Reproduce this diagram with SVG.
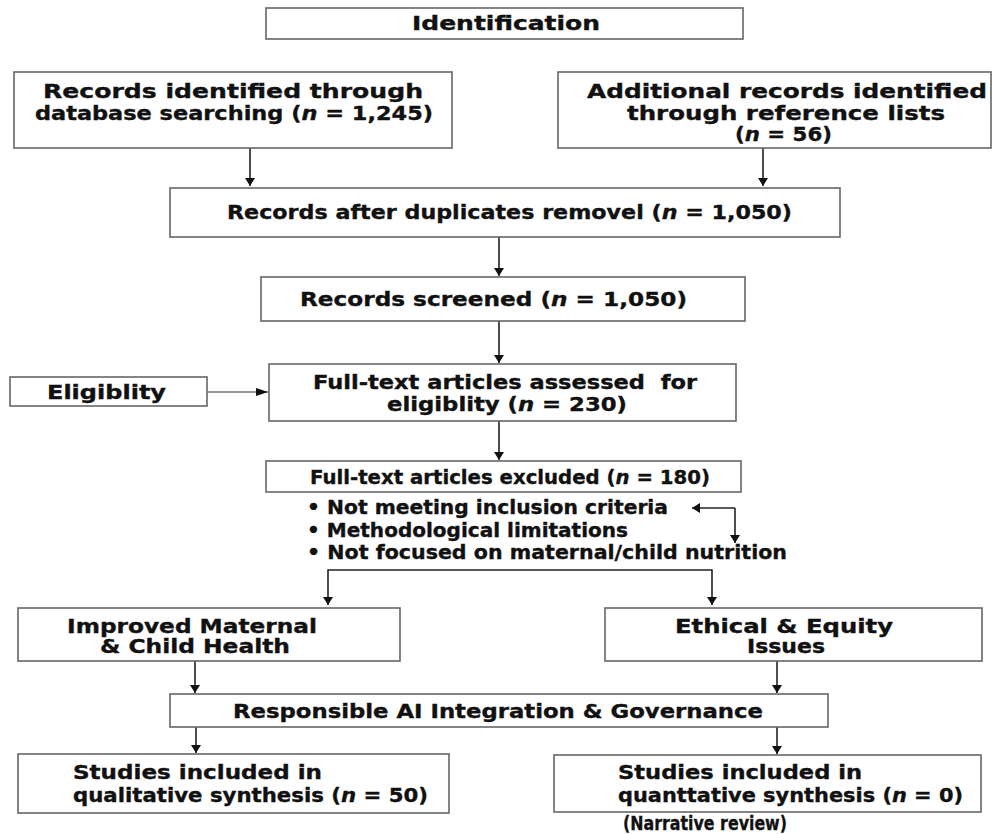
<svg xmlns="http://www.w3.org/2000/svg" width="992" height="834" viewBox="0 0 992 834">
<style>
.box{fill:#fff;stroke:#666;stroke-width:1.6}
.t{font-family:"DejaVu Sans","Liberation Sans",sans-serif;font-weight:bold;font-size:19px;fill:#111;stroke:#111;stroke-width:0.35;white-space:pre}
.c{fill:none;stroke:#222;stroke-width:1.6}
.thin{fill:none;stroke:#333;stroke-width:1}
</style>
<defs>
<marker id="ah" viewBox="0 0 8 10" markerWidth="8" markerHeight="10" refX="8" refY="5" orient="auto-start-reverse" markerUnits="userSpaceOnUse">
<path d="M0,0 L8,5 L0,10 z" fill="#111"/>
</marker>
<marker id="ahs" viewBox="0 0 12 8" markerWidth="12" markerHeight="8" refX="12" refY="4" orient="auto" markerUnits="userSpaceOnUse">
<path d="M0,0 L12,4 L0,8 z" fill="#111"/>
</marker>
</defs>
<rect width="992" height="834" fill="#fff"/>
<g id="connectors">
<path class="c" d="M250,148 V186" marker-end="url(#ah)"/>
<path class="c" d="M763,148 V186" marker-end="url(#ah)"/>
<path class="c" d="M499,237 V276" marker-end="url(#ah)"/>
<path class="c" d="M499,321 V363" marker-end="url(#ah)"/>
<path class="thin" d="M207,392 H268" marker-end="url(#ahs)"/>
<path class="c" d="M499,421 V460" marker-end="url(#ah)"/>
<path class="c" d="M735,508 H692" marker-end="url(#ah)"/>
<path class="c" d="M735,508 V543" marker-end="url(#ah)"/>
<path class="c" d="M328,605 V570 H712 V605" marker-start="url(#ah)" marker-end="url(#ah)"/>
<path class="c" d="M195,661 V693" marker-end="url(#ah)"/>
<path class="c" d="M777,661 V693" marker-end="url(#ah)"/>
<path class="c" d="M196,727 V753" marker-end="url(#ah)"/>
<path class="c" d="M777,727 V754" marker-end="url(#ah)"/>
</g>
<g id="identification">
<rect class="box" x="266" y="8" width="477" height="31"/>
<text class="t" x="412" y="30" textLength="188" lengthAdjust="spacingAndGlyphs">Identification</text>
</g>
<g id="database">
<rect class="box" x="14" y="72" width="438" height="76"/>
<text class="t" x="43" y="98" textLength="380" lengthAdjust="spacingAndGlyphs">Records identified through</text>
<text class="t" x="35" y="120" textLength="398" lengthAdjust="spacingAndGlyphs">database searching (<tspan font-style="italic">n</tspan> = 1,245)</text>
</g>
<g id="additional">
<rect class="box" x="558" y="72" width="433" height="76"/>
<text class="t" x="587" y="98" textLength="400" lengthAdjust="spacingAndGlyphs">Additional records identified</text>
<text class="t" x="627" y="120" textLength="318" lengthAdjust="spacingAndGlyphs">through reference lists</text>
<text class="t" x="735" y="141" textLength="97" lengthAdjust="spacingAndGlyphs">(<tspan font-style="italic">n</tspan> = 56)</text>
</g>
<g id="duplicates">
<rect class="box" x="170" y="188" width="670" height="49"/>
<text class="t" x="227" y="219" textLength="565" lengthAdjust="spacingAndGlyphs">Records after duplicates removel (<tspan font-style="italic">n</tspan> = 1,050)</text>
</g>
<g id="screened">
<rect class="box" x="261" y="277" width="484" height="44"/>
<text class="t" x="300" y="306" textLength="387" lengthAdjust="spacingAndGlyphs">Records screened (<tspan font-style="italic">n</tspan> = 1,050)</text>
</g>
<g id="assessed">
<rect class="box" x="269" y="364" width="467" height="57"/>
<text class="t" x="313" y="389" textLength="384" lengthAdjust="spacingAndGlyphs">Full-text articles assessed  for</text>
<text class="t" x="387" y="411" textLength="240" lengthAdjust="spacingAndGlyphs">eligiblity (<tspan font-style="italic">n</tspan> = 230)</text>
</g>
<g id="eligibility">
<rect class="box" x="10" y="377" width="197" height="29"/>
<text class="t" x="47" y="399" textLength="119" lengthAdjust="spacingAndGlyphs">Eligiblity</text>
</g>
<g id="excluded">
<rect class="box" x="266" y="461" width="475" height="31"/>
<text class="t" x="310" y="484" textLength="400" lengthAdjust="spacingAndGlyphs">Full-text articles excluded (<tspan font-style="italic">n</tspan> = 180)</text>
<text class="t" x="307" y="514" textLength="361" lengthAdjust="spacingAndGlyphs">• Not meeting inclusion criteria</text>
<text class="t" x="307" y="537" textLength="321" lengthAdjust="spacingAndGlyphs">• Methodological limitations</text>
<text class="t" x="307" y="559" textLength="480" lengthAdjust="spacingAndGlyphs">• Not focused on maternal/child nutrition</text>
</g>
<g id="improved">
<rect class="box" x="18" y="608" width="382" height="53"/>
<text class="t" x="67" y="633" textLength="250" lengthAdjust="spacingAndGlyphs">Improved Maternal</text>
<text class="t" x="100" y="653" textLength="190" lengthAdjust="spacingAndGlyphs">&amp; Child Health</text>
</g>
<g id="ethical">
<rect class="box" x="605" y="608" width="377" height="53"/>
<text class="t" x="675" y="633" textLength="218" lengthAdjust="spacingAndGlyphs">Ethical &amp; Equity</text>
<text class="t" x="747" y="653" textLength="78" lengthAdjust="spacingAndGlyphs">Issues</text>
</g>
<g id="responsible">
<rect class="box" x="170" y="694" width="658" height="33"/>
<text class="t" x="233" y="718" textLength="530" lengthAdjust="spacingAndGlyphs">Responsible AI Integration &amp; Governance</text>
</g>
<g id="qualitative">
<rect class="box" x="18" y="754" width="431" height="59"/>
<text class="t" x="73" y="779" textLength="249" lengthAdjust="spacingAndGlyphs">Studies included in</text>
<text class="t" x="73" y="802" textLength="355" lengthAdjust="spacingAndGlyphs">qualitative synthesis (<tspan font-style="italic">n</tspan> = 50)</text>
</g>
<g id="quantitative">
<rect class="box" x="554" y="755" width="427" height="57"/>
<text class="t" x="618" y="779" textLength="244" lengthAdjust="spacingAndGlyphs">Studies included in</text>
<text class="t" x="618" y="802" textLength="345" lengthAdjust="spacingAndGlyphs">quanttative synthesis (<tspan font-style="italic">n</tspan> = 0)</text>
<text class="t" x="623" y="830" textLength="164" lengthAdjust="spacingAndGlyphs">(Narrative review)</text>
</g>
</svg>
